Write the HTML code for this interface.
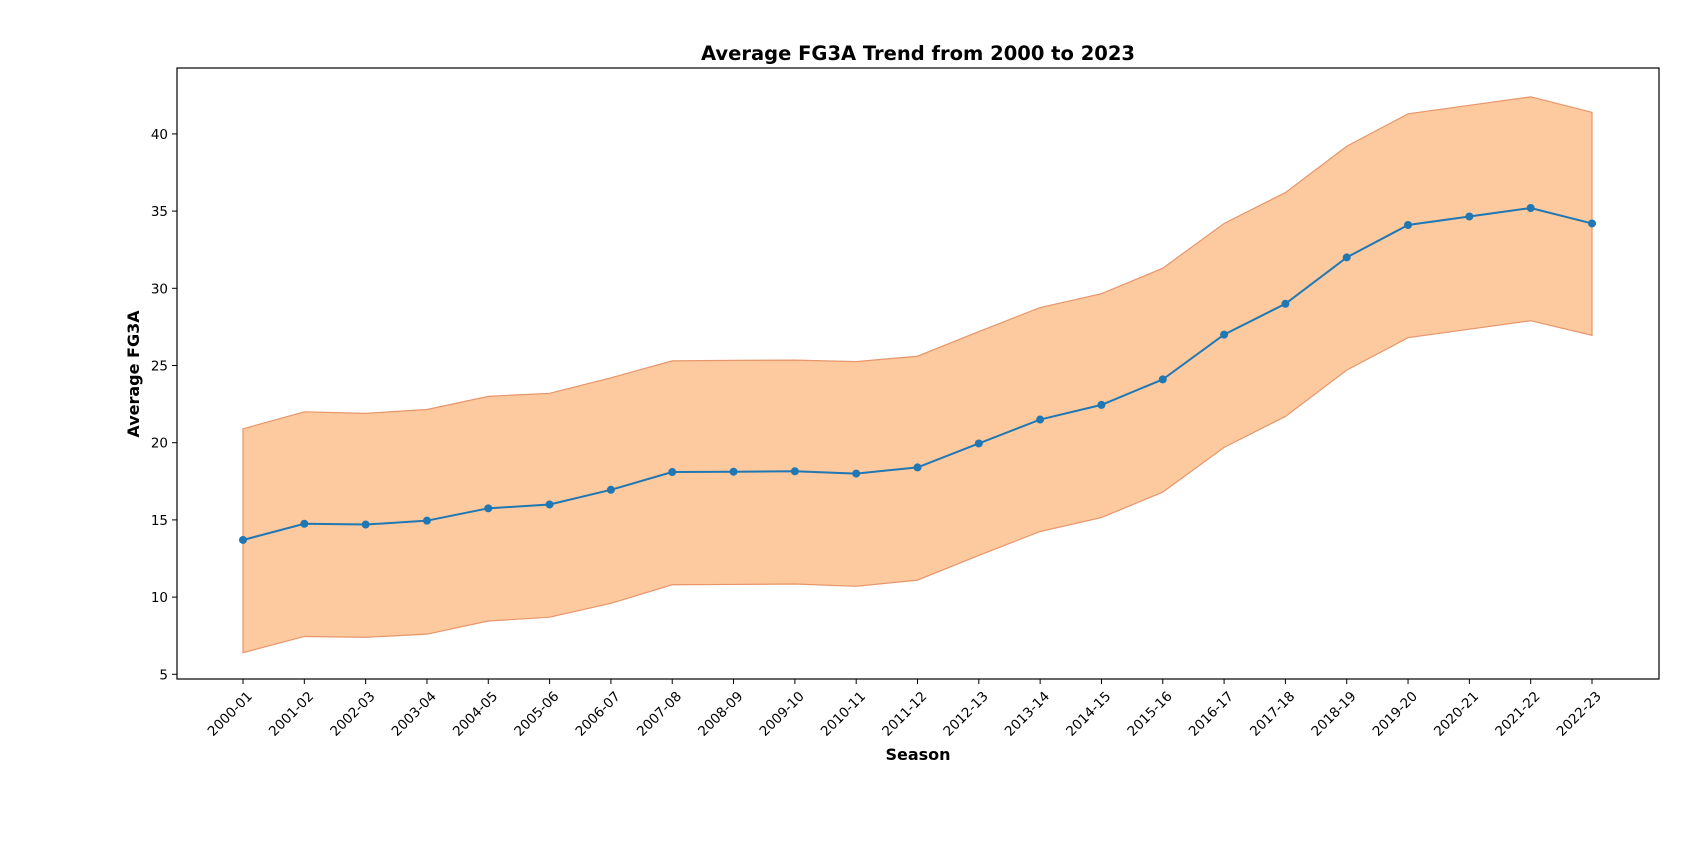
<!DOCTYPE html>
<html><head><meta charset="utf-8"><style>
html,body{margin:0;padding:0;background:#fff;}
svg{display:block;font-family:"DejaVu Sans","Liberation Sans",sans-serif;}
</style></head><body>
<svg id="chart" width="1706" height="856" viewBox="0 0 1706 856">
<text x="918" y="60" text-anchor="middle" font-size="19.5" font-weight="bold">Average FG3A Trend from 2000 to 2023</text>
<g id="plot"></g>
<rect x="177" y="68" width="1482" height="611" fill="none" stroke="#000" stroke-width="1.2"/>
<text x="918" y="760" text-anchor="middle" font-size="16" font-weight="bold">Season</text>
<text transform="translate(139,374) rotate(-90)" text-anchor="middle" font-size="16" font-weight="bold">Average FG3A</text>
</svg>
<script>
const seasons = ["2000-01","2001-02","2002-03","2003-04","2004-05","2005-06","2006-07","2007-08","2008-09","2009-10","2010-11","2011-12","2012-13","2013-14","2014-15","2015-16","2016-17","2017-18","2018-19","2019-20","2020-21","2021-22","2022-23"];
const meanValues = [13.7,14.75,14.7,14.95,15.75,16.0,16.95,18.1,18.12,18.15,18.0,18.4,19.95,21.5,22.45,24.1,27.0,29.0,32.0,34.1,34.65,35.2,34.2];
const upperValues = [20.9,22.0,21.9,22.15,23.0,23.2,24.2,25.3,25.33,25.35,25.25,25.6,27.2,28.75,29.65,31.3,34.2,36.2,39.2,41.3,41.85,42.4,41.4];
const lowerValues = [6.4,7.45,7.4,7.6,8.45,8.7,9.6,10.8,10.82,10.85,10.7,11.1,12.7,14.25,15.15,16.8,19.7,21.7,24.7,26.8,27.35,27.9,26.95];
const yTicks = [5,10,15,20,25,30,35,40];

const NS="http://www.w3.org/2000/svg";
const g=document.getElementById('plot');
const svg=document.getElementById('chart');
function xPos(i){return 243+i*(1592-243)/(seasons.length-1);}
function yPos(v){return 674.3-(v-5)*15.44;}
function mk(t,a,parent){const e=document.createElementNS(NS,t);for(const k in a)e.setAttribute(k,a[k]);(parent||g).appendChild(e);return e;}

let pts=seasons.map((s,i)=>xPos(i)+','+yPos(upperValues[i]));
for(let i=seasons.length-1;i>=0;i--)pts.push(xPos(i)+','+yPos(lowerValues[i]));
const band=mk('polygon',{points:pts.join(' '),fill:'#fdca9f',stroke:'#e8956a','stroke-width':1.2});



const line=mk('polyline',{points:meanValues.map((v,i)=>xPos(i)+','+yPos(v)).join(' '),fill:'none',stroke:'#1f77b4','stroke-width':2});


meanValues.forEach((v,i)=>{
  const c=mk('circle',{cx:xPos(i),cy:yPos(v),r:4,fill:'#1f77b4'});
  
  
});

yTicks.forEach(t=>{
  const y=yPos(t);
  const tk=mk('line',{x1:172,x2:177,y1:y,y2:y,stroke:'#000','stroke-width':1},svg);
  
  
  const lb=mk('text',{x:168,y:y+5,'text-anchor':'end','font-size':13.5},svg);
  lb.textContent=t;
  
  
});
seasons.forEach((s,i)=>{
  const x=xPos(i);
  const tk=mk('line',{x1:x,x2:x,y1:679,y2:684,stroke:'#000','stroke-width':1},svg);
  
  
  const lb=mk('text',{transform:'translate('+(x+10)+',697) rotate(-45)','text-anchor':'end','font-size':13.5},svg);
  lb.textContent=s;
  
  
});
</script>
</body></html>
